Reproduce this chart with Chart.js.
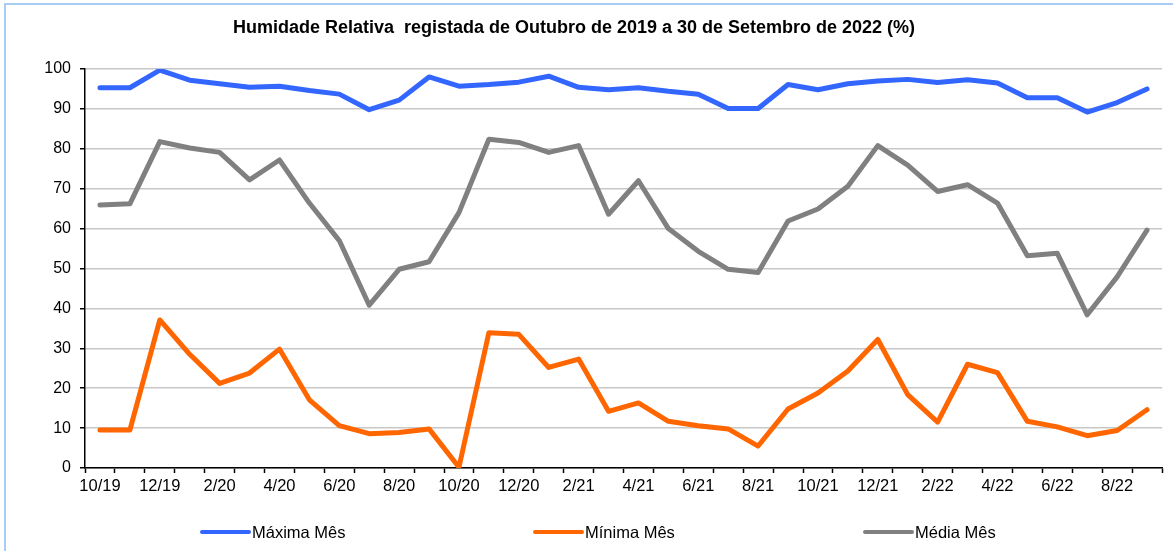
<!DOCTYPE html>
<html>
<head>
<meta charset="utf-8">
<script src="https://cdn.jsdelivr.net/npm/chart.js@4/dist/chart.umd.min.js"></script>
<style>
  body { margin: 0; background: #fff; }
  canvas { display: block; }
</style>
</head>
<body>
<canvas id="chart" width="1173" height="551"></canvas>
<script>
const months = [
    '10/19', '11/19', '12/19', '1/20', '2/20', '3/20', '4/20', '5/20', '6/20',
    '7/20', '8/20', '9/20', '10/20', '11/20', '12/20', '1/21', '2/21', '3/21',
    '4/21', '5/21', '6/21', '7/21', '8/21', '9/21', '10/21', '11/21', '12/21',
    '1/22', '2/22', '3/22', '4/22', '5/22', '6/22', '7/22', '8/22', '9/22'
];
const maxima = [
    95.3, 95.3, 99.7, 97.2, 96.3, 95.4, 95.7, 94.6, 93.7, 89.8, 92.2, 98.0,
    95.7, 96.1, 96.7, 98.2, 95.4, 94.8, 95.3, 94.4, 93.7, 90.1, 90.1, 96.1,
    94.8, 96.3, 97.0, 97.4, 96.6, 97.3, 96.5, 92.8, 92.8, 89.2, 91.6, 95.0
];
const minima = [
    9.5, 9.5, 37.1, 28.5, 21.2, 23.8, 29.8, 17.1, 10.6, 8.6, 8.9, 9.8,
    0.2, 33.9, 33.5, 25.2, 27.3, 14.2, 16.3, 11.7, 10.6, 9.8, 5.5, 14.8,
    18.8, 24.3, 32.2, 18.4, 11.5, 26.0, 23.9, 11.7, 10.3, 8.1, 9.4, 14.6
];
const media = [
    65.9, 66.2, 81.8, 80.2, 79.1, 72.2, 77.2, 66.4, 57.0, 40.8, 49.8, 51.7,
    64.0, 82.4, 81.6, 79.1, 80.8, 63.6, 72.0, 60.0, 54.3, 49.8, 49.0, 61.9,
    64.9, 70.6, 80.8, 75.9, 69.3, 71.0, 66.4, 53.2, 53.8, 38.4, 47.9, 59.6
];
const seriesNames = ['Máxima Mês', 'Mínima Mês', 'Média Mês'];
const seriesColors = ['#3366ff', '#ff6600', '#808080'];
const titleText = 'Humidade Relativa  registada de Outubro de 2019 a 30 de Setembro de 2022 (%)';

const font = '"Liberation Sans", Arial, sans-serif';

// title, legend and the frame are drawn by hand
const decor = {
    id: 'decor',
    afterDraw(chart) {
        const c = chart.ctx;
        c.save();
        c.strokeStyle = '#a8cdf2';
        c.lineWidth = 2;
        c.beginPath();
        c.moveTo(5, 560);
        c.lineTo(5, 4);
        c.lineTo(1180, 4);
        c.stroke();

        c.fillStyle = '#000';
        c.font = 'bold 18px ' + font;
        c.textAlign = 'center';
        c.textBaseline = 'middle';
        c.fillText(titleText, 574, 28);

        const legendX = [202, 535, 865];
        c.font = '16.5px ' + font;
        c.textAlign = 'left';
        chart.data.datasets.forEach((ds, i) => {
            c.strokeStyle = ds.borderColor;
            c.lineWidth = 4;
            c.lineCap = 'round';
            c.beginPath();
            c.moveTo(legendX[i], 532);
            c.lineTo(legendX[i] + 47, 532);
            c.stroke();
            c.fillStyle = '#000';
            c.fillText(ds.label, legendX[i] + 50, 533);
        });
        c.restore();
    }
};

new Chart(document.getElementById('chart'), {
    type: 'line',
    data: {
        labels: months,
        datasets: [maxima, minima, media].map((values, i) => ({
            label: seriesNames[i],
            data: values,
            borderColor: seriesColors[i],
            backgroundColor: seriesColors[i],
            borderWidth: 5,
            borderJoinStyle: 'round',
            borderCapStyle: 'round',
            pointRadius: 0,
            tension: 0,
        })),
    },
    options: {
        responsive: false,
        animation: false,
        layout: { padding: { top: 69, right: 11, left: 0, bottom: 0 } },
        plugins: {
            legend: { display: false },
            title: { display: false },
            tooltip: { enabled: false },
        },
        scales: {
            x: {
                offset: true,
                grid: {
                    offset: true,
                    drawOnChartArea: false,
                    tickColor: '#000',
                    tickLength: 5,
                    tickWidth: 1.5,
                },
                border: { color: '#000', width: 1.5 },
                ticks: {
                    autoSkip: false,
                    maxRotation: 0,
                    padding: 4,
                    color: '#000',
                    font: { family: font, size: 16.5 },
                    callback: (v, i) => (i % 2 === 0 ? months[i] : ''),
                },
                afterFit: (scale) => { scale.height = 551 - 468; },
            },
            y: {
                min: 0,
                max: 100,
                ticks: {
                    stepSize: 10,
                    padding: 9,
                    color: '#000',
                    font: { family: font, size: 16 },
                },
                grid: {
                    color: '#c8c8c8',
                    lineWidth: 1.5,
                    tickColor: '#000',
                    tickLength: 5,
                    tickWidth: 1.5,
                },
                border: { color: '#000', width: 1.5 },
                afterFit: (scale) => { scale.width = 85; },
            },
        },
    },
    plugins: [decor],
});
</script>
</body>
</html>
